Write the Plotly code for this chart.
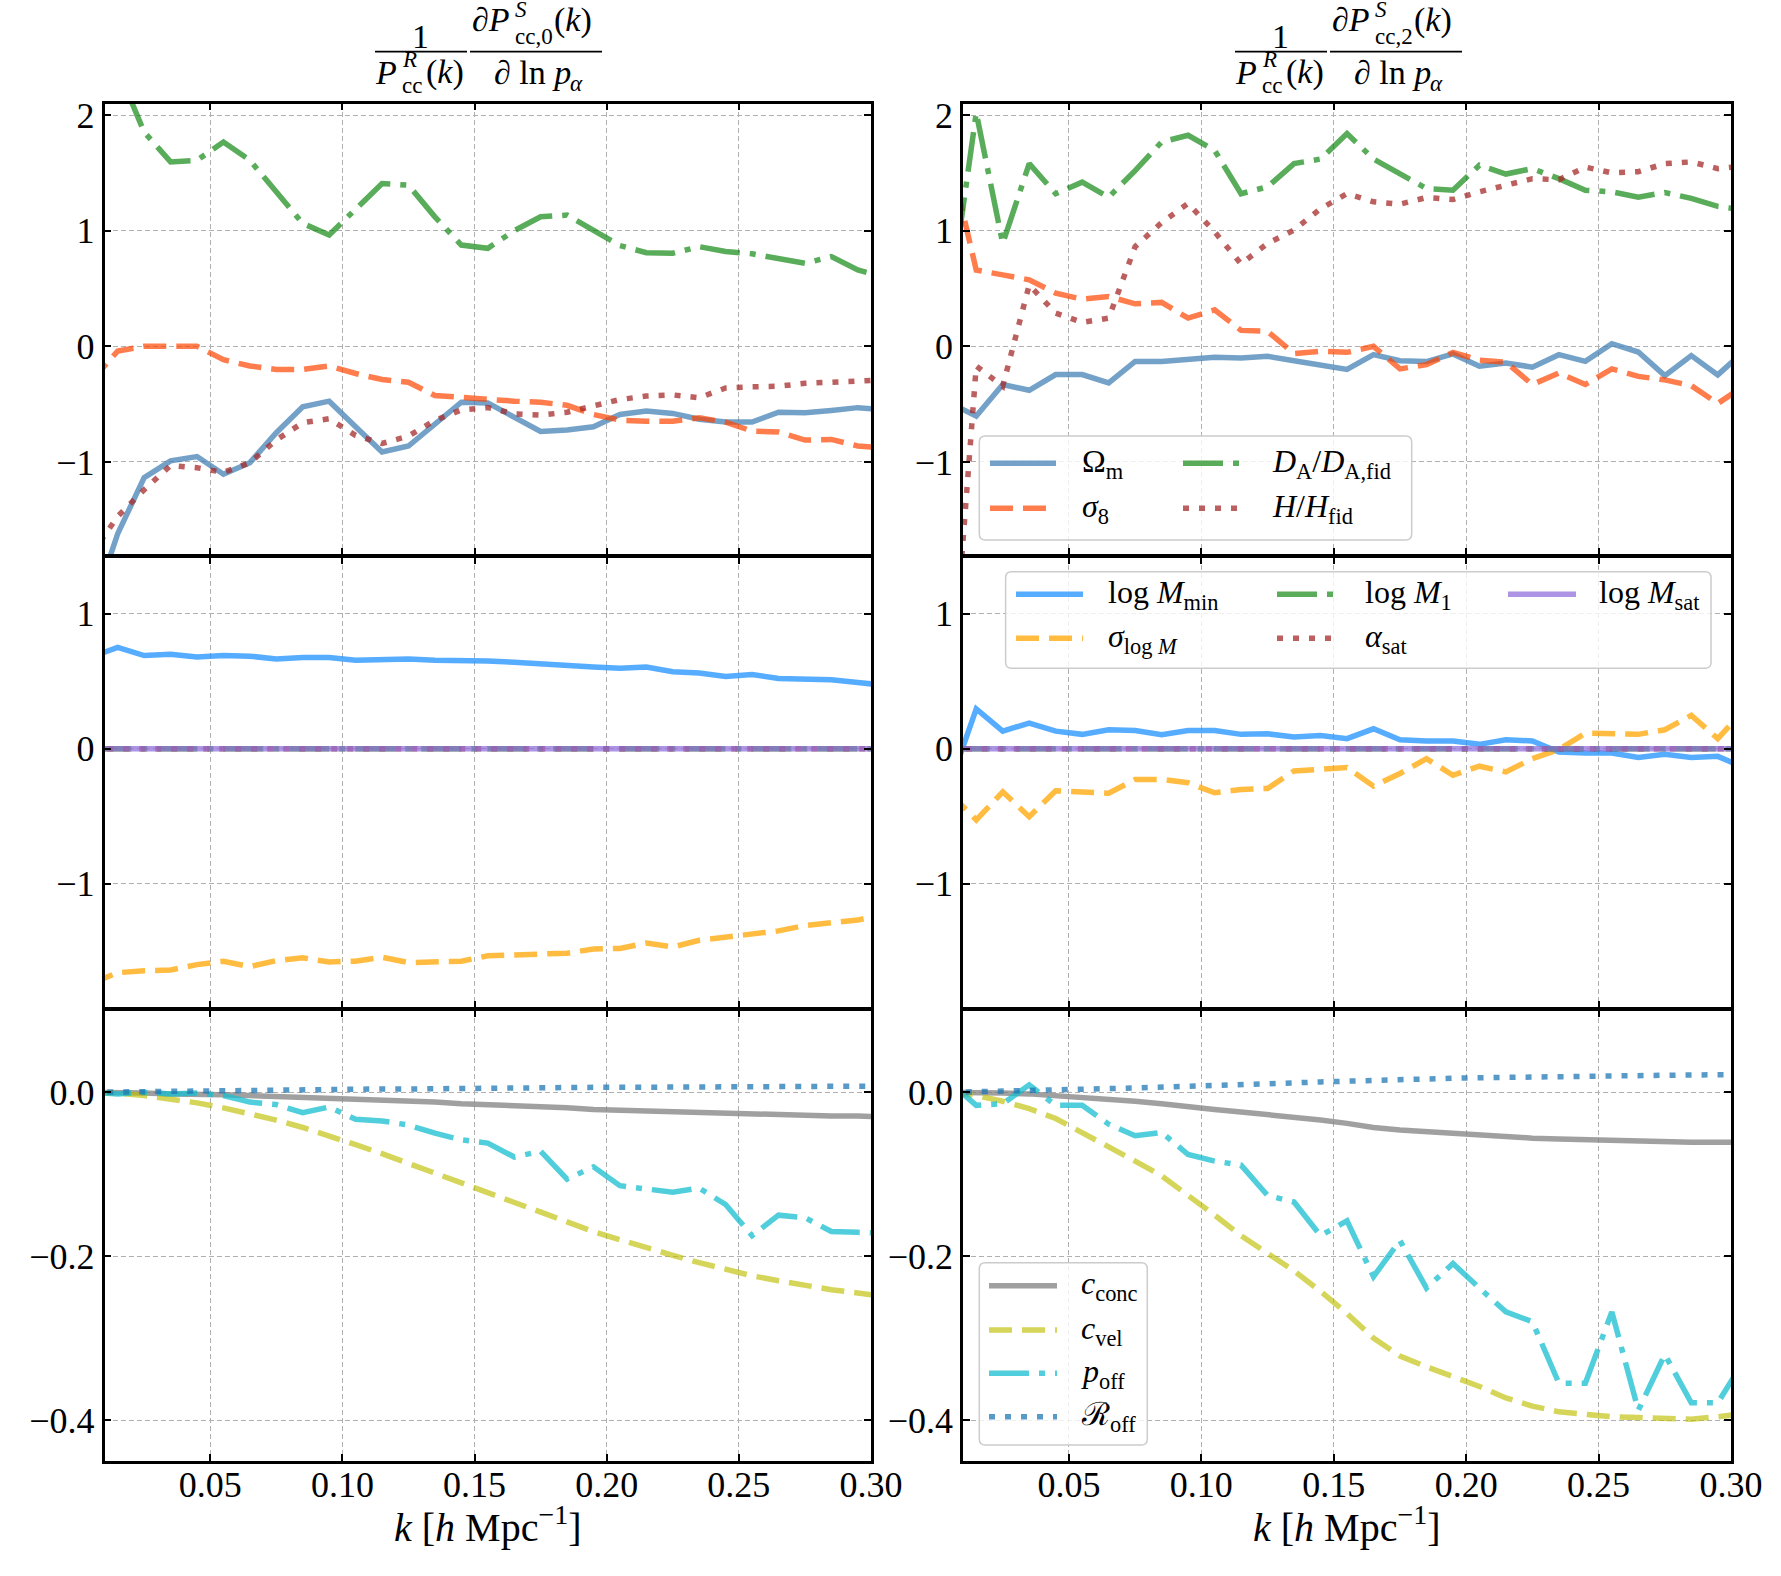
import plotly.graph_objects as go
from plotly.subplots import make_subplots

# ---------------- data ----------------
k = [0.005, 0.015, 0.025, 0.035, 0.045, 0.055, 0.065, 0.075, 0.085, 0.095,
     0.105, 0.115, 0.125, 0.135, 0.145, 0.155, 0.165, 0.175, 0.185, 0.195,
     0.205, 0.215, 0.225, 0.235, 0.245, 0.255, 0.265, 0.275, 0.285, 0.295, 0.305]

# top row: cosmology parameters (monopole, quadrupole)
om_l = [-2.3, -1.62, -1.135, -0.99, -0.953, -1.106, -1.006, -0.747, -0.523, -0.474,
        -0.695, -0.913, -0.862, -0.667, -0.483, -0.489, -0.615, -0.736, -0.724, -0.695,
        -0.589, -0.56, -0.58, -0.63, -0.655, -0.655, -0.569, -0.575, -0.555, -0.53, -0.55]
s8_l = [-0.30, -0.04, 0.0, 0.0, 0.0, -0.115, -0.17, -0.20, -0.20, -0.17,
        -0.235, -0.287, -0.31, -0.425, -0.445, -0.465, -0.474, -0.483, -0.51, -0.59,
        -0.638, -0.647, -0.647, -0.618, -0.655, -0.733, -0.741, -0.81, -0.805, -0.862, -0.88]
da_l = [2.7, 2.4, 1.853, 1.595, 1.609, 1.767, 1.609, 1.336, 1.063, 0.963,
        1.19, 1.408, 1.394, 1.12, 0.876, 0.848, 1.0, 1.12, 1.135, 1.0,
        0.871, 0.81, 0.805, 0.862, 0.82, 0.80, 0.76, 0.718, 0.776, 0.66, 0.6]
hh_l = [-1.8, -1.47, -1.24, -1.03, -1.05, -1.09, -1.006, -0.81, -0.66, -0.626,
        -0.77, -0.84, -0.776, -0.64, -0.55, -0.53, -0.583, -0.595, -0.57, -0.51,
        -0.46, -0.43, -0.42, -0.445, -0.36, -0.35, -0.345, -0.32, -0.31, -0.293, -0.29]

om_r = [-0.49, -0.603, -0.33, -0.38, -0.244, -0.244, -0.316, -0.13, -0.13, -0.109,
        -0.095, -0.10, -0.086, -0.124, -0.158, -0.2, -0.072, -0.124, -0.132, -0.066,
        -0.172, -0.144, -0.18, -0.072, -0.13, 0.023, -0.049, -0.253, -0.08, -0.247, -0.04]
s8_r = [1.64, 0.66, 0.618, 0.575, 0.46, 0.408, 0.431, 0.368, 0.38, 0.244,
        0.316, 0.138, 0.13, -0.063, -0.043, -0.052, 0.0, -0.195, -0.158, -0.052,
        -0.12, -0.138, -0.33, -0.23, -0.33, -0.195, -0.26, -0.29, -0.34, -0.494, -0.34]
da_r = [0.38, 2.02, 0.89, 1.58, 1.32, 1.42, 1.29, 1.52, 1.767, 1.825,
        1.695, 1.32, 1.38, 1.58, 1.62, 1.84, 1.62, 1.49, 1.365, 1.35,
        1.566, 1.49, 1.537, 1.45, 1.35, 1.336, 1.29, 1.33, 1.28, 1.21, 1.18]
hh_r = [-3.2, -0.17, -0.345, 0.53, 0.287, 0.207, 0.244, 0.862, 1.07, 1.236,
        0.99, 0.713, 0.89, 1.006, 1.19, 1.32, 1.25, 1.23, 1.287, 1.27,
        1.336, 1.39, 1.45, 1.44, 1.55, 1.5, 1.51, 1.58, 1.595, 1.537, 1.56]

# middle row: HOD parameters
mmin_l = [0.68, 0.75, 0.69, 0.70, 0.68, 0.69, 0.685, 0.665, 0.675, 0.675,
          0.655, 0.665, 0.665, 0.655, 0.655, 0.65, 0.64, 0.625, 0.61, 0.605,
          0.595, 0.605, 0.57, 0.56, 0.535, 0.55, 0.52, 0.52, 0.51, 0.49, 0.47]
slm_l = [-1.74, -1.66, -1.645, -1.64, -1.60, -1.575, -1.615, -1.57, -1.55, -1.58,
         -1.575, -1.545, -1.585, -1.575, -1.575, -1.535, -1.53, -1.525, -1.515, -1.485,
         -1.48, -1.44, -1.47, -1.42, -1.40, -1.375, -1.35, -1.31, -1.285, -1.27, -1.225]
m1_l = [0.0] * 31
asat_l = [0.0] * 31
msat_l = [0.0] * 31

mmin_r = [-0.27, 0.295, 0.13, 0.19, 0.13, 0.106, 0.14, 0.135, 0.103, 0.135,
          0.135, 0.106, 0.11, 0.086, 0.098, 0.074, 0.147, 0.066, 0.057, 0.057,
          0.032, 0.066, 0.057, -0.025, -0.032, -0.032, -0.066, -0.042, -0.066, -0.057, -0.14]
slm_r = [-0.33, -0.528, -0.32, -0.504, -0.312, -0.32, -0.33, -0.228, -0.228, -0.253,
         -0.327, -0.302, -0.295, -0.165, -0.155, -0.14, -0.278, -0.184, -0.074, -0.197,
         -0.13, -0.172, -0.074, -0.007, 0.115, 0.115, 0.106, 0.14, 0.246, 0.074, 0.29]
m1_r = [0.0] * 31
asat_r = [0.0] * 31
msat_r = [0.0] * 31

# bottom row: nuisance parameters
cc_l = [0.0, 0.0, -0.001, -0.002, -0.002, -0.003, -0.004, -0.005, -0.006, -0.007,
        -0.008, -0.009, -0.011, -0.012, -0.014, -0.015, -0.017, -0.018, -0.019, -0.021,
        -0.022, -0.023, -0.024, -0.025, -0.026, -0.026, -0.027, -0.028, -0.029, -0.029, -0.030]
cv_l = [0.0, -0.001, -0.004, -0.008, -0.013, -0.019, -0.026, -0.034, -0.043, -0.053,
        -0.064, -0.075, -0.087, -0.099, -0.111, -0.123, -0.135, -0.147, -0.159, -0.170,
        -0.180, -0.190, -0.199, -0.208, -0.216, -0.224, -0.230, -0.236, -0.241, -0.245, -0.249]
po_l = [0.0, -0.002, 0.0, -0.002, -0.001, -0.004, -0.012, -0.015, -0.025, -0.018,
        -0.033, -0.035, -0.04, -0.05, -0.058, -0.062, -0.079, -0.072, -0.106, -0.091,
        -0.114, -0.118, -0.122, -0.117, -0.137, -0.175, -0.15, -0.153, -0.17, -0.171, -0.172]
ro_l = [0.0, 0.0005, 0.001, 0.001, 0.0015, 0.002, 0.002, 0.0025, 0.003, 0.003,
        0.0035, 0.004, 0.004, 0.0045, 0.0045, 0.005, 0.005, 0.0055, 0.0055, 0.006,
        0.006, 0.006, 0.0065, 0.0065, 0.0065, 0.007, 0.007, 0.007, 0.007, 0.0075, 0.0075]

cc_r = [0.0, 0.0, -0.001, -0.002, -0.004, -0.006, -0.008, -0.011, -0.014, -0.018,
        -0.021, -0.024, -0.027, -0.030, -0.034, -0.038, -0.043, -0.046, -0.048, -0.050,
        -0.052, -0.055, -0.056, -0.057, -0.058, -0.059, -0.0595, -0.060, -0.061, -0.061, -0.061]
cv_r = [0.0, -0.004, -0.011, -0.020, -0.032, -0.049, -0.066, -0.084, -0.102, -0.125,
        -0.150, -0.175, -0.197, -0.218, -0.243, -0.270, -0.300, -0.322, -0.335, -0.347,
        -0.359, -0.373, -0.383, -0.390, -0.393, -0.396, -0.397, -0.398, -0.399, -0.396, -0.392]
po_r = [0.012, -0.016, -0.014, 0.009, -0.016, -0.016, -0.039, -0.053, -0.049, -0.076,
        -0.084, -0.089, -0.126, -0.134, -0.175, -0.157, -0.225, -0.181, -0.239, -0.209,
        -0.239, -0.268, -0.280, -0.355, -0.355, -0.268, -0.388, -0.320, -0.379, -0.379, -0.327]
ro_r = [0.0, 0.0005, 0.0012, 0.002, 0.0028, 0.0036, 0.0044, 0.0052, 0.006, 0.0068,
        0.0078, 0.009, 0.0102, 0.0114, 0.0126, 0.0138, 0.0148, 0.0156, 0.0164, 0.0171,
        0.0177, 0.0183, 0.0189, 0.0195, 0.0200, 0.0203, 0.0206, 0.0209, 0.0211, 0.0213, 0.0215]

x_ticks = [0.05, 0.10, 0.15, 0.20, 0.25, 0.30]
y_ticks_top = [-1, 0, 1, 2]
y_ticks_mid = [-1, 0, 1]
y_ticks_bot = [-0.4, -0.2, 0.0]

# ---------------- styles ----------------
W, H = 1781, 1576
FONT = "Liberation Serif"
LW = 5.5
DASH = "23px,10px"
DASHDOT = "40px,10px,6px,10px"
DOT = "6px,10px"

C_OM = "rgba(70,130,180,0.75)"
C_S8 = "rgba(255,69,0,0.7)"
C_DA = "rgba(0,128,0,0.65)"
C_HH = "rgba(165,42,42,0.75)"
C_MMIN = "rgba(30,144,255,0.75)"
C_SLM = "rgba(255,165,0,0.75)"
C_MSAT = "rgba(147,112,219,0.75)"
C_CC = "rgba(128,128,128,0.75)"
C_CV = "rgba(191,191,0,0.65)"
C_PO = "rgba(23,190,207,0.75)"
C_RO = "rgba(31,119,180,0.75)"

fig = make_subplots(rows=3, cols=2)


def add(y, row, col, color, dash="solid"):
    fig.add_trace(go.Scatter(x=k, y=y, mode="lines", showlegend=False,
                             line=dict(color=color, width=LW, dash=dash)),
                  row=row, col=col)


for col, (om, s8, da, hh) in enumerate([(om_l, s8_l, da_l, hh_l), (om_r, s8_r, da_r, hh_r)], start=1):
    add(om, 1, col, C_OM)
    add(s8, 1, col, C_S8, DASH)
    add(da, 1, col, C_DA, DASHDOT)
    add(hh, 1, col, C_HH, DOT)

for col, (mm, sl, m1, al, ms) in enumerate([(mmin_l, slm_l, m1_l, asat_l, msat_l),
                                            (mmin_r, slm_r, m1_r, asat_r, msat_r)], start=1):
    add(mm, 2, col, C_MMIN)
    add(sl, 2, col, C_SLM, DASH)
    add(m1, 2, col, C_DA, DASHDOT)
    add(al, 2, col, C_HH, DOT)
    add(ms, 2, col, C_MSAT)

for col, (cc, cv, po, ro) in enumerate([(cc_l, cv_l, po_l, ro_l), (cc_r, cv_r, po_r, ro_r)], start=1):
    add(cc, 3, col, C_CC)
    add(cv, 3, col, C_CV, DASH)
    add(po, 3, col, C_PO, DASHDOT)
    add(ro, 3, col, C_RO, DOT)

# ---------------- axes ----------------
AXW = 2.5
XD = {1: [104.5 / W, 871 / W], 2: [963 / W, 1731 / W]}
# rows offset by the axis-line width so that shared borders coincide
YD = {1: [1 - 554.5 / H, 1 - 103.5 / H],
      2: [1 - 1007.8 / H, 1 - 557.0 / H],
      3: [1 - 1461.0 / H, 1 - 1010.3 / H]}
YR = {1: [-1.8, 2.1], 2: [-1.92, 1.42], 3: [-0.45, 0.1]}
YT = {1: (y_ticks_top, "d"), 2: (y_ticks_mid, "d"), 3: (y_ticks_bot, ".1f")}

common = dict(ticks="inside", ticklen=7, tickwidth=2, tickcolor="black",
              showline=True, linecolor="black", linewidth=AXW, mirror="ticks",
              showgrid=True, gridcolor="#b0b0b0", griddash="5px,3px", gridwidth=1.2,
              zeroline=False, automargin=False,
              tickfont=dict(family=FONT, size=36, color="black"))

for row in (1, 2, 3):
    for col in (1, 2):
        idx = (row - 1) * 2 + col
        xs = "xaxis" if idx == 1 else f"xaxis{idx}"
        ys = "yaxis" if idx == 1 else f"yaxis{idx}"
        fig.layout[xs].update(domain=XD[col], range=[0.01, 0.30], tickvals=x_ticks,
                              tickformat=".2f", showticklabels=(row == 3),
                              ticklabelstandoff=-10, **common)
        tv, tf = YT[row]
        fig.layout[ys].update(domain=YD[row], range=YR[row], tickvals=tv,
                              tickformat=tf, **common)

# ---------------- annotations helpers ----------------
def px(x):
    return x / W


def py(y):
    return 1 - y / H


annotations = []
shapes = []


def txt(x, y, s, size, xa="left", ya="middle"):
    annotations.append(dict(x=px(x), y=py(y), xref="paper", yref="paper", text=s,
                            showarrow=False, xanchor=xa, yanchor=ya,
                            font=dict(family=FONT, size=size, color="black")))


def hline(x0, x1, y, color="black", width=1.8, dash="solid"):
    shapes.append(dict(type="line", xref="paper", yref="paper", x0=px(x0), x1=px(x1),
                       y0=py(y), y1=py(y), layer="above",
                       line=dict(color=color, width=width, dash=dash)))


def rbox(x0, y0, x1, y1, r=6):
    pts = [("M", x0 + r, y0), ("L", x1 - r, y0), ("Q", x1, y0, x1, y0 + r), ("L", x1, y1 - r),
           ("Q", x1, y1, x1 - r, y1), ("L", x0 + r, y1), ("Q", x0, y1, x0, y1 - r),
           ("L", x0, y0 + r), ("Q", x0, y0, x0 + r, y0)]
    path = ""
    for p in pts:
        cmd = p[0]
        coords = p[1:]
        s = " ".join(f"{px(coords[i]):.5f},{py(coords[i + 1]):.5f}" for i in range(0, len(coords), 2))
        path += f"{cmd}{s} "
    path += "Z"
    shapes.append(dict(type="path", xref="paper", yref="paper", path=path, layer="above",
                       fillcolor="rgba(255,255,255,0.8)", line=dict(color="#cccccc", width=1.5)))


# ---------------- titles ----------------
BIG, SMALL = 34, 23
for off, ell in ((0, "0"), (860, "2")):
    txt(420.7 + off, 36, "1", BIG, xa="center")
    hline(375 + off, 467 + off, 51.7)
    txt(373 + off, 72, "<i>P</i>", BIG)
    txt(400 + off, 59, "<i>R</i>", SMALL)
    txt(400 + off, 85, "cc", SMALL)
    txt(424 + off, 72, "(<i>k</i>)", BIG)
    hline(470 + off, 602 + off, 51.7)
    txt(470 + off, 20, "∂<i>P</i>", BIG)
    txt(513 + off, 9, "<i>S</i>", SMALL)
    txt(513 + off, 36, "cc," + ell, SMALL)
    txt(552 + off, 20, "(<i>k</i>)", BIG)
    txt(492 + off, 72, "∂ ln <i>p</i>", BIG)
    txt(568 + off, 84, "<i>α</i>", SMALL)

# x-axis labels
for cx in (488, 1347):
    txt(cx, 1524, "<i>k</i> [<i>h</i> Mpc<sup>−1</sup>]", 40, xa="center")

# ---------------- legends ----------------
LS = 32
# top-right
rbox(979.3, 436, 1411.7, 540)
hline(990, 1056, 463.3, C_OM, LW)
hline(990, 1056, 508.3, C_S8, LW, DASH)
hline(1183, 1243, 463.3, C_DA, LW, DASHDOT)
hline(1183, 1243, 508.3, C_HH, LW, DOT)
txt(1080, 463.3, "Ω<sub>m</sub>", LS)
txt(1080, 508.3, "<i>σ</i><sub>8</sub>", LS)
txt(1270, 463.3, "<i>D</i><sub>A</sub>/<i>D</i><sub>A,fid</sub>", LS)
txt(1270, 508.3, "<i>H</i>/<i>H</i><sub>fid</sub>", LS)

# middle-right
rbox(1005.6, 571.7, 1711, 668.3)
hline(1016, 1083, 594.3, C_MMIN, LW)
hline(1016, 1083, 638.3, C_SLM, LW, DASH)
hline(1277, 1337, 594.3, C_DA, LW, DASHDOT)
hline(1277, 1337, 638.3, C_HH, LW, DOT)
hline(1508, 1576, 594.3, C_MSAT, LW)
txt(1106, 594.3, "log <i>M</i><sub>min</sub>", LS)
txt(1106, 638.3, "<i>σ</i><sub>log <i>M</i></sub>", LS)
txt(1363, 594.3, "log <i>M</i><sub>1</sub>", LS)
txt(1363, 638.3, "<i>α</i><sub>sat</sub>", LS)
txt(1597, 594.3, "log <i>M</i><sub>sat</sub>", LS)

# bottom-right
rbox(979.3, 1262.7, 1147.3, 1445)
for yy, col, dsh, lab in ((1285.7, C_CC, "solid", "<i>c</i><sub>conc</sub>"),
                          (1330.0, C_CV, DASH, "<i>c</i><sub>vel</sub>"),
                          (1373.3, C_PO, DASHDOT, "<i>p</i><sub>off</sub>"),
                          (1416.7, C_RO, DOT, "ℛ<sub>off</sub>")):
    hline(989, 1057, yy, col, LW, dsh)
    txt(1079, yy, lab, LS)

fig.update_layout(width=W, height=H,
                  margin=dict(l=0, r=0, t=0, b=0, pad=0, autoexpand=False),
                  paper_bgcolor="white", plot_bgcolor="white", showlegend=False,
                  annotations=annotations, shapes=shapes,
                  font=dict(family=FONT, color="black"))

fig.write_html("out.html", config={"responsive": False},
               post_script="document.body.style.margin='0';document.body.style.overflow='hidden';")
